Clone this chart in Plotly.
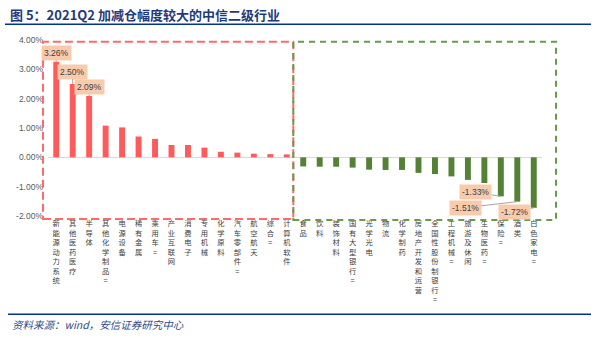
import plotly.graph_objects as go

categories = ["新能源动力系统", "其他医药医疗", "半导体", "其他化学制品=", "电源设备", "稀有金属",
              "乘用车=", "产业互联网", "消费电子", "专用机械", "化学原料", "汽车零部件=",
              "航空航天", "综合=", "计算机软件",
              "食品", "饮料", "装饰材料", "国有大型银行=", "光学光电", "物流", "化学制药",
              "房地产开发和运营", "全国性股份制银行=", "工程机械=", "旅游及休闲", "生物医药=",
              "保险=", "酒类", "白色家电="]
values = [3.26, 2.50, 2.09, 1.08, 1.02, 0.71, 0.63, 0.42, 0.42, 0.33, 0.19, 0.16, 0.125, 0.11, 0.10,
          -0.31, -0.32, -0.32, -0.35, -0.42, -0.43, -0.43, -0.53, -0.57, -0.65, -0.77, -0.875,
          -1.33, -1.51, -1.72]
ytick_vals = [-2, -1, 0, 1, 2, 3, 4]
ytick_text = ["-2.00%", "-1.00%", "0.00%", "1.00%", "2.00%", "3.00%", "4.00%"]
labelled = {0: "3.26%", 1: "2.50%", 2: "2.09%", 27: "-1.33%", 28: "-1.51%", 29: "-1.72%"}
label_offsets = {0: (0, -9), 1: (0, -12.5), 2: (0, -9), 27: (-25, -4), 28: (-52, 6), 29: (-19, 4)}

W, H = 595, 338
ml, mr, mt, mb = 48, 53, 40, 122

RED = "#FF5B5B"
GREEN = "#548235"
colors = [RED if v >= 0 else GREEN for v in values]
ticklabels = ["<br>".join(list(c)) for c in categories]

fig = go.Figure()
fig.add_trace(go.Bar(x=list(range(len(categories))), y=values, marker=dict(color=colors, line=dict(width=0)),
                     width=0.36, hoverinfo="skip"))

annotations = []
for i, txt in labelled.items():
    ax, ay = label_offsets[i]
    annotations.append(dict(x=i, y=values[i], xref="x", yref="y", text=txt, showarrow=True,
                            arrowhead=0, arrowwidth=1, arrowcolor="#A6A6A6", ax=ax, ay=ay,
                            standoff=0, startstandoff=0,
                            bgcolor="#F8CBAD", borderpad=2,
                            font=dict(family="Liberation Sans, Arial", size=8.5, color="#404040")))

pw = W - ml - mr
ph = H - mt - mb
def px(x):
    return (x - ml) / pw
def py(y):
    return (H - mb - y) / ph

annotations.append(dict(x=px(8), y=py(14), xref="paper", yref="paper",
                        text="<b>图 5：2021Q2 加减仓幅度较大的中信二级行业</b>",
                        showarrow=False, xanchor="left", yanchor="middle",
                        font=dict(family="Noto Sans CJK SC", size=13, color="#1F3A7A")))
annotations.append(dict(x=px(10), y=py(324), xref="paper", yref="paper",
                        text="<i>资料来源：wind，安信证券研究中心</i>",
                        showarrow=False, xanchor="left", yanchor="middle",
                        font=dict(family="Noto Sans CJK SC", size=10.5, color="#2F4C8A")))

shapes = [
    dict(type="rect", xref="paper", yref="paper", x0=px(43), x1=px(293.3), y0=py(219), y1=py(41.7),
         line=dict(color="#FF6B6B", width=2, dash="8px,4px"), fillcolor="rgba(0,0,0,0)", layer="above"),
    dict(type="rect", xref="paper", yref="paper", x0=px(293.3), x1=px(556), y0=py(220), y1=py(41.7),
         line=dict(color="#6A9A4A", width=2, dash="6px,5px"), fillcolor="rgba(0,0,0,0)", layer="above"),
    dict(type="line", xref="paper", yref="paper", x0=px(5), x1=px(591), y0=py(24.3), y1=py(24.3),
         line=dict(color="#00338D", width=1.5)),
    dict(type="line", xref="paper", yref="paper", x0=px(8), x1=px(591), y0=py(314.3), y1=py(314.3),
         line=dict(color="#00338D", width=1.5)),
]

fig.update_layout(
    width=W, height=H, margin=dict(l=ml, r=mr, t=mt, b=mb),
    paper_bgcolor="white", plot_bgcolor="white", showlegend=False,
    annotations=annotations, shapes=shapes, bargap=0.64,
    xaxis=dict(tickmode="array", tickvals=list(range(len(categories))), ticktext=ticklabels,
               tickangle=0, range=[-0.5, len(categories) - 0.5], showgrid=False, zeroline=False,
               showline=False, ticks="", ticklabelstandoff=2,
               tickfont=dict(family="Noto Sans CJK SC", size=7.3, color="#404040")),
    yaxis=dict(range=[-2, 4], tickmode="array", tickvals=ytick_vals, ticktext=ytick_text,
               showgrid=False, zeroline=True, zerolinecolor="#D9D9D9", zerolinewidth=1,
               showline=False, ticks="", ticklabelstandoff=4,
               tickfont=dict(family="Liberation Sans, Arial", size=8.5, color="#595959")),
    font=dict(family="Noto Sans CJK SC"),
)

fig.write_html("out.html")
